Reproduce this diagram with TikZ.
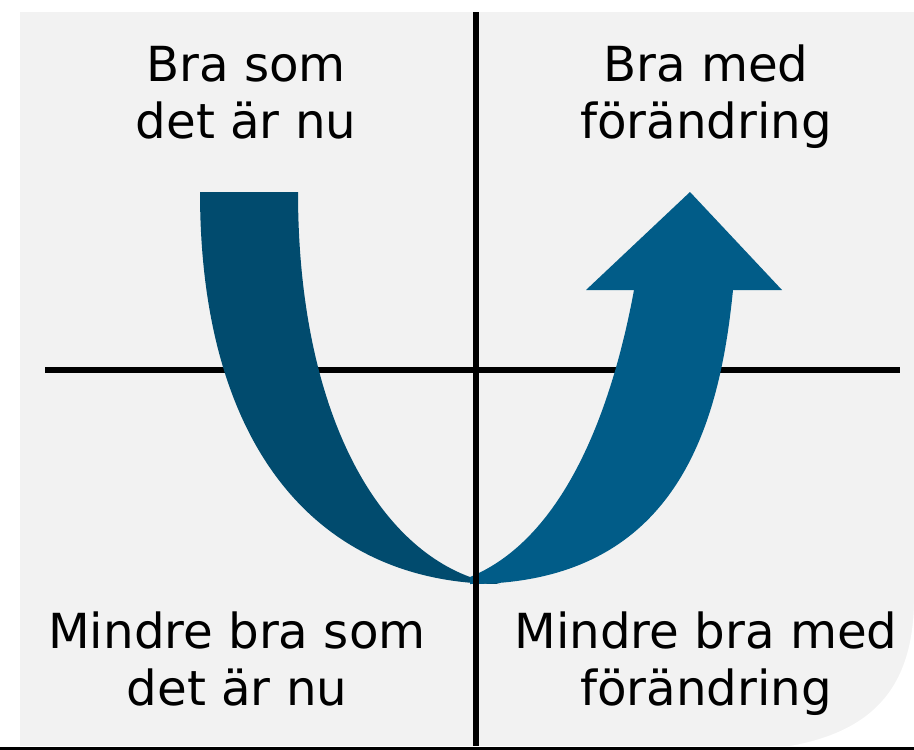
\documentclass[tikz,border=0pt]{standalone}
\usepackage{fontspec}
\setmainfont{DejaVu Sans}
\definecolor{bgrey}{HTML}{F2F2F2}
\definecolor{darkband}{HTML}{014B6E}
\definecolor{lightband}{HTML}{015C88}
\tikzset{
  axis/.style={line width=5.5pt, black},
  lbl/.style={inner sep=0pt, align=center, anchor=base, font=\fontsize{48.3}{56.7}\selectfont, text=black}
}
\begin{document}
\begin{tikzpicture}[x=1pt,y=-1pt]
\useasboundingbox (0,0) rectangle (914,750);
% background
\fill[bgrey] (20,12) rectangle (914,746);
\fill[white] (914,590) .. controls (916,680) and (880,730) .. (790,746) -- (914,746) -- cycle;
% horizontal axis (under arrow)
\draw[axis] (45,370) -- (900,370);
% dark band
\fill[darkband] (200,192) .. controls (200,450) and (320,584) .. (500,584)
  -- (470,577) .. controls (370,540) and (298,400) .. (298,192) -- cycle;
% light band with arrowhead
\fill[lightband] (470,577) .. controls (560,540) and (610,420) .. (634,290)
  -- (586,290) -- (690,192) -- (782,290) -- (733,290)
  .. controls (720,420) and (680,584) .. (470,584) -- cycle;
% vertical axis (over arrow)
\draw[axis] (476,12) -- (476,746);
% bottom rule
\draw[line width=3pt] (0,748) -- (914,748);
% labels
\node[lbl] (tl) at (246,138) {Bra som\\det är nu};
\node[lbl] (tr) at (706,138) {Bra med\\förändring};
\node[lbl] (bl) at (237,705) {Mindre bra som\\det är nu};
\node[lbl] (br) at (706,705) {Mindre bra med\\förändring};
\end{tikzpicture}
\end{document}
